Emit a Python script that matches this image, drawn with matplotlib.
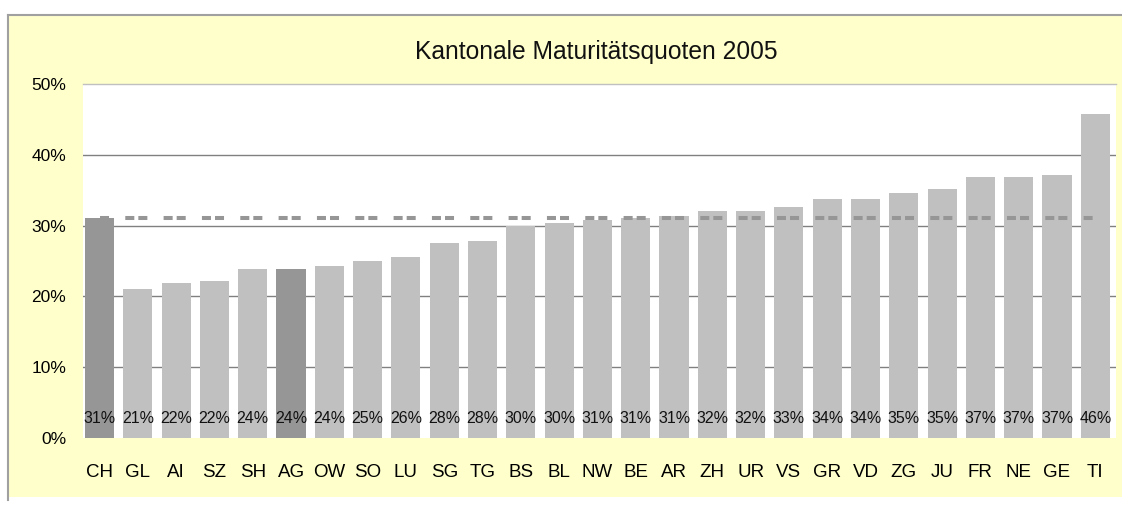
import matplotlib
matplotlib.use("Agg")
import matplotlib.pyplot as plt
import matplotlib.patches as mpatches
from matplotlib.lines import Line2D

plt.rcParams['font.family'] = ['Liberation Sans', 'DejaVu Sans']
plt.rcParams['lines.scale_dashes'] = False

# Kantone, sortiert nach Maturitätsquote 2005
kantone = ['CH', 'GL', 'AI', 'SZ', 'SH', 'AG', 'OW', 'SO', 'LU', 'SG', 'TG', 'BS', 'BL', 'NW',
           'BE', 'AR', 'ZH', 'UR', 'VS', 'GR', 'VD', 'ZG', 'JU', 'FR', 'NE', 'GE', 'TI']
quoten = [0.311, 0.211, 0.219, 0.222, 0.238, 0.238, 0.243, 0.250, 0.256, 0.276, 0.278, 0.300,
          0.303, 0.308, 0.311, 0.314, 0.320, 0.320, 0.326, 0.337, 0.337, 0.346, 0.351, 0.368,
          0.368, 0.371, 0.458]
hervorgehoben = ['CH', 'AG']
schnitt_ch = 0.311
y_ticks = [0, 0.1, 0.2, 0.3, 0.4, 0.5]

W, H = 1122, 508
fig = plt.figure(figsize=(W / 100, H / 100), dpi=100)
fig.patch.set_facecolor('white')

# chart area (yellow background with grey frame)
fig.patches.append(mpatches.Rectangle((7.5 / W, 1 - 497 / H), 1.2, (497 - 14.5) / H,
                                      transform=fig.transFigure, facecolor='#FFFFCC',
                                      edgecolor='none', zorder=-10))
fig.lines.append(Line2D([7.5 / W, 7.5 / W], [1 - 500 / H, 1 - 14.5 / H], transform=fig.transFigure,
                        color='#A0A0A0', lw=1.5, zorder=-9))
fig.lines.append(Line2D([7.5 / W, 1.0], [1 - 14.5 / H, 1 - 14.5 / H], transform=fig.transFigure,
                        color='#A0A0A0', lw=1.5, zorder=-9))

ax = fig.add_axes([82.7 / W, 1 - 438 / H, (1116 - 82.7) / W, (438 - 84) / H])
ax.set_facecolor('white')

x = list(range(len(kantone)))
farben = ['#969696' if k in hervorgehoben else '#C0C0C0' for k in kantone]
ax.bar(x, quoten, width=0.76, color=farben, zorder=2)

# CH average as dashed line
ax.plot([x[0], x[-1]], [schnitt_ch, schnitt_ch], color='#969696', lw=2.9,
        linestyle=(0, (6.5, 11.7, 6.5, 2.9)), solid_capstyle='butt',
        dash_capstyle='butt', zorder=3)

for xi, q in zip(x, quoten):
    ax.text(xi, 0.028, f'{round(q * 100):.0f}%', ha='center', va='center',
            fontsize=11.5, color='#111111', zorder=4)

ax.set_xlim(-0.44, len(kantone) - 1 + 0.54)
ax.set_ylim(0, 0.5)
ax.set_yticks(y_ticks)
ax.set_yticklabels([f'{int(t * 100)}%' for t in y_ticks])
ax.set_xticks(x)
ax.set_xticklabels(kantone)
ax.tick_params(axis='y', length=0, pad=12, labelsize=12.5)
ax.tick_params(axis='x', length=0, pad=19, labelsize=13.5)

for t in y_ticks[1:-1]:
    ax.axhline(t, color='#808080', lw=1.0, zorder=1)
for s in ['left', 'right', 'bottom']:
    ax.spines[s].set_visible(False)
ax.spines['top'].set_color('#C0C0C0')
ax.spines['top'].set_linewidth(1.0)

fig.text(596 / W, 1 - 52 / H, 'Kantonale Maturitätsquoten 2005', ha='center', va='center',
         fontsize=17.7, color='#111111')

fig.savefig('out.png', dpi=100)
